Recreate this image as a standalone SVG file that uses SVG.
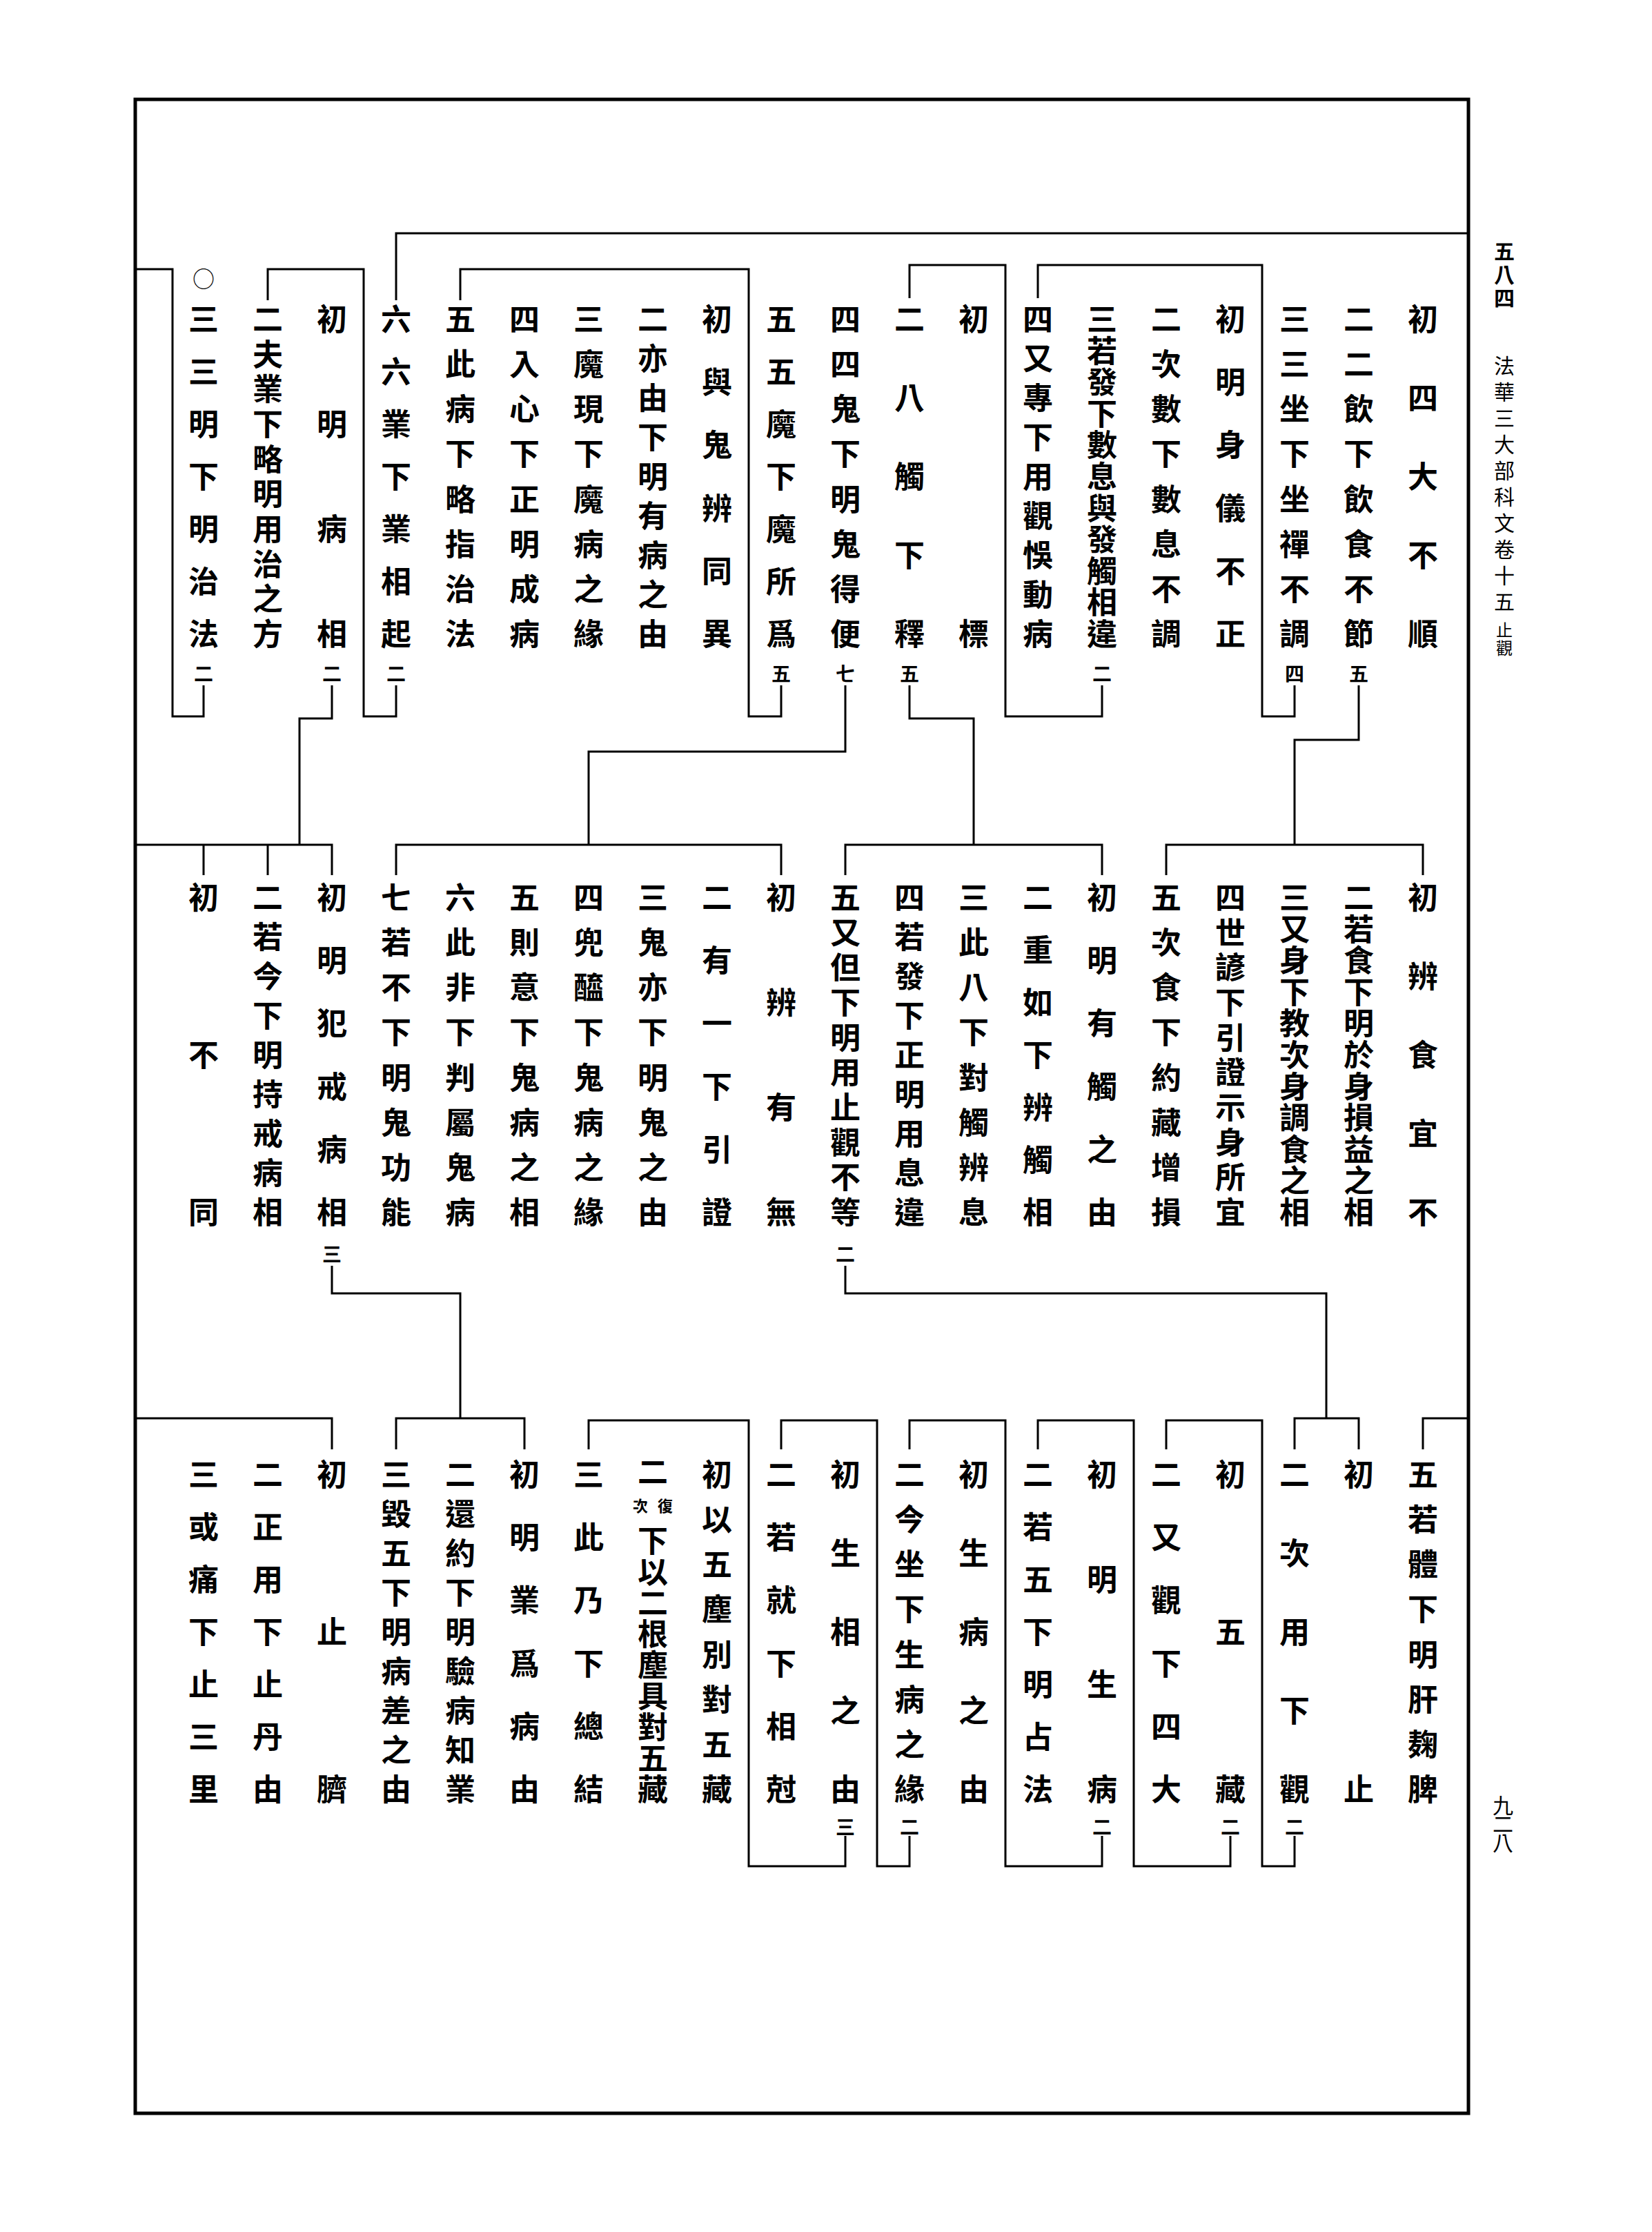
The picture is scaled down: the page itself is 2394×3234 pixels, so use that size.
<svg xmlns="http://www.w3.org/2000/svg" width="2394" height="3234" viewBox="0 0 2394 3234">
<style>
.t{font-family:"Noto Sans CJK TC","Noto Sans CJK JP",sans-serif;font-size:44px;font-weight:700;text-anchor:middle;dominant-baseline:central;fill:#000}
.n{font-size:28px}
.k{font-size:22px}
.h{font-family:"Noto Sans CJK TC","Noto Sans CJK JP",sans-serif;font-size:30px;text-anchor:middle;dominant-baseline:central;fill:#000}
.ln{fill:none;stroke:#000;stroke-width:3}
</style>
<rect width="2394" height="3234" fill="#fff"/>
<rect x="196" y="144" width="1932" height="2918" fill="none" stroke="#000" stroke-width="5"/>
<g id="header">
<text class="h" font-weight="700" x="2180 2180 2180" y="362 396 430">五八四</text>
<text class="h" x="2180 2180 2180 2180 2180 2180 2180 2180 2180 2180" y="528 566 604 642 680 718 756 794 832 870">法華三大部科文卷十五<tspan font-size="24" x="2180 2180" y="911 937">止觀</tspan></text>
<text class="h" font-size="24" x="2178 2178 2178" y="2614 2641 2668">九二八</text>
</g>
<g id="connectors" class="ln">
<path d="M574 435V338H2128"/>
<path d="M1504 432V384H1829V1038H1876V993"/>
<path d="M1318 432V384H1457V1038H1597V993"/>
<path d="M667 435V390H1085V1038H1132V993"/>
<path d="M388 435V390H527V1038H574V993"/>
<path d="M196 390H250V1038H295V993"/>
<path d="M1969 993V1072H1876V1224"/>
<path d="M1318 993V1041H1411V1224"/>
<path d="M1225 993V1089H853V1224"/>
<path d="M481 993V1041H434V1224"/>
<path d="M1690 1268V1224H2062V1268"/>
<path d="M1225 1268V1224H1597V1268"/>
<path d="M574 1268V1224H1132V1268"/>
<path d="M196 1224H481V1268M388 1224V1268M295 1224V1268"/>
<path d="M1225 1834V1874H1922V2055"/>
<path d="M481 1834V1874H667V2055"/>
<path d="M2128 2055H2062V2100"/>
<path d="M1876 2100V2055H1969V2100"/>
<path d="M1690 2100V2058H1829V2704H1876V2660"/>
<path d="M1504 2100V2058H1643V2704H1783V2660"/>
<path d="M1318 2100V2058H1457V2704H1597V2660"/>
<path d="M1132 2100V2058H1271V2704H1318V2660"/>
<path d="M853 2100V2058H1085V2704H1225V2660"/>
<path d="M574 2100V2055H760V2100"/>
<path d="M196 2055H481V2100"/>
</g>
<g id="r1c0"><text class="t" x="2062 2062 2062 2062 2062" y="460 574 688 802 916">初四大不順</text></g>
<g id="r1c1"><text class="t" x="1969 1969 1969 1969 1969 1969 1969 1969" y="460 525 590 655 721 786 851 916">二二飲下飲食不節<tspan class="n" x="1969" y="975">五</tspan></text></g>
<g id="r1c2"><text class="t" x="1876 1876 1876 1876 1876 1876 1876 1876" y="460 525 590 655 721 786 851 916">三三坐下坐禪不調<tspan class="n" x="1876" y="975">四</tspan></text></g>
<g id="r1c3"><text class="t" x="1783 1783 1783 1783 1783 1783" y="460 551 642 734 825 916">初明身儀不正</text></g>
<g id="r1c4"><text class="t" x="1690 1690 1690 1690 1690 1690 1690 1690" y="460 525 590 655 721 786 851 916">二次數下數息不調</text></g>
<g id="r1c5"><text class="t" x="1597 1597 1597 1597 1597 1597 1597 1597 1597 1597 1597" y="460 506 551 597 642 688 734 779 825 870 916">三若發下數息與發觸相違<tspan class="n" x="1597" y="975">二</tspan></text></g>
<g id="r1c6"><text class="t" x="1504 1504 1504 1504 1504 1504 1504 1504 1504" y="460 517 574 631 688 745 802 859 916">四又專下用觀悞動病</text></g>
<g id="r1c7"><text class="t" x="1411 1411" y="460 916">初標</text></g>
<g id="r1c8"><text class="t" x="1318 1318 1318 1318 1318" y="460 574 688 802 916">二八觸下釋<tspan class="n" x="1318" y="975">五</tspan></text></g>
<g id="r1c9"><text class="t" x="1225 1225 1225 1225 1225 1225 1225 1225" y="460 525 590 655 721 786 851 916">四四鬼下明鬼得便<tspan class="n" x="1225" y="975">七</tspan></text></g>
<g id="r1c10"><text class="t" x="1132 1132 1132 1132 1132 1132 1132" y="460 536 612 688 764 840 916">五五魔下魔所爲<tspan class="n" x="1132" y="975">五</tspan></text></g>
<g id="r1c11"><text class="t" x="1039 1039 1039 1039 1039 1039" y="460 551 642 734 825 916">初與鬼辨同異</text></g>
<g id="r1c12"><text class="t" x="946 946 946 946 946 946 946 946 946" y="460 517 574 631 688 745 802 859 916">二亦由下明有病之由</text></g>
<g id="r1c13"><text class="t" x="853 853 853 853 853 853 853 853" y="460 525 590 655 721 786 851 916">三魔現下魔病之緣</text></g>
<g id="r1c14"><text class="t" x="760 760 760 760 760 760 760 760" y="460 525 590 655 721 786 851 916">四入心下正明成病</text></g>
<g id="r1c15"><text class="t" x="667 667 667 667 667 667 667 667" y="460 525 590 655 721 786 851 916">五此病下略指治法</text></g>
<g id="r1c16"><text class="t" x="574 574 574 574 574 574 574" y="460 536 612 688 764 840 916">六六業下業相起<tspan class="n" x="574" y="975">二</tspan></text></g>
<g id="r1c17"><text class="t" x="481 481 481 481" y="460 612 764 916">初明病相<tspan class="n" x="481" y="975">二</tspan></text></g>
<g id="r1c18"><text class="t" x="388 388 388 388 388 388 388 388 388 388" y="460 511 561 612 663 713 764 815 865 916">二夫業下略明用治之方</text></g>
<g id="r1c19"><text class="t"><tspan font-size="32" font-weight="400" x="295" y="402">○</tspan><tspan x="295 295 295 295 295 295 295" y="460 536 612 688 764 840 916">三三明下明治法</tspan><tspan class="n" x="295" y="975">二</tspan></text></g>
<g id="r2c0"><text class="t" x="2062 2062 2062 2062 2062" y="1298 1412 1526 1640 1754">初辨食宜不</text></g>
<g id="r2c1"><text class="t" x="1969 1969 1969 1969 1969 1969 1969 1969 1969 1969 1969" y="1298 1344 1389 1435 1480 1526 1572 1617 1663 1708 1754">二若食下明於身損益之相</text></g>
<g id="r2c2"><text class="t" x="1876 1876 1876 1876 1876 1876 1876 1876 1876 1876 1876" y="1298 1344 1389 1435 1480 1526 1572 1617 1663 1708 1754">三又身下教次身調食之相</text></g>
<g id="r2c3"><text class="t" x="1783 1783 1783 1783 1783 1783 1783 1783 1783 1783" y="1298 1349 1399 1450 1501 1551 1602 1653 1703 1754">四世諺下引證示身所宜</text></g>
<g id="r2c4"><text class="t" x="1690 1690 1690 1690 1690 1690 1690 1690" y="1298 1363 1428 1493 1559 1624 1689 1754">五次食下約藏增損</text></g>
<g id="r2c5"><text class="t" x="1597 1597 1597 1597 1597 1597" y="1298 1389 1480 1572 1663 1754">初明有觸之由</text></g>
<g id="r2c6"><text class="t" x="1504 1504 1504 1504 1504 1504 1504" y="1298 1374 1450 1526 1602 1678 1754">二重如下辨觸相</text></g>
<g id="r2c7"><text class="t" x="1411 1411 1411 1411 1411 1411 1411 1411" y="1298 1363 1428 1493 1559 1624 1689 1754">三此八下對觸辨息</text></g>
<g id="r2c8"><text class="t" x="1318 1318 1318 1318 1318 1318 1318 1318 1318" y="1298 1355 1412 1469 1526 1583 1640 1697 1754">四若發下正明用息違</text></g>
<g id="r2c9"><text class="t" x="1225 1225 1225 1225 1225 1225 1225 1225 1225 1225" y="1298 1349 1399 1450 1501 1551 1602 1653 1703 1754">五又但下明用止觀不等<tspan class="n" x="1225" y="1816">二</tspan></text></g>
<g id="r2c10"><text class="t" x="1132 1132 1132 1132" y="1298 1450 1602 1754">初辨有無</text></g>
<g id="r2c11"><text class="t" x="1039 1039 1039 1039 1039 1039" y="1298 1389 1480 1572 1663 1754">二有一下引證</text></g>
<g id="r2c12"><text class="t" x="946 946 946 946 946 946 946 946" y="1298 1363 1428 1493 1559 1624 1689 1754">三鬼亦下明鬼之由</text></g>
<g id="r2c13"><text class="t" x="853 853 853 853 853 853 853 853" y="1298 1363 1428 1493 1559 1624 1689 1754">四兜醯下鬼病之緣</text></g>
<g id="r2c14"><text class="t" x="760 760 760 760 760 760 760 760" y="1298 1363 1428 1493 1559 1624 1689 1754">五則意下鬼病之相</text></g>
<g id="r2c15"><text class="t" x="667 667 667 667 667 667 667 667" y="1298 1363 1428 1493 1559 1624 1689 1754">六此非下判屬鬼病</text></g>
<g id="r2c16"><text class="t" x="574 574 574 574 574 574 574 574" y="1298 1363 1428 1493 1559 1624 1689 1754">七若不下明鬼功能</text></g>
<g id="r2c17"><text class="t" x="481 481 481 481 481 481" y="1298 1389 1480 1572 1663 1754">初明犯戒病相<tspan class="n" x="481" y="1816">三</tspan></text></g>
<g id="r2c18"><text class="t" x="388 388 388 388 388 388 388 388 388" y="1298 1355 1412 1469 1526 1583 1640 1697 1754">二若今下明持戒病相</text></g>
<g id="r2c19"><text class="t" x="295 295 295" y="1298 1526 1754">初不同</text></g>
<g id="r3c0"><text class="t" x="2062 2062 2062 2062 2062 2062 2062 2062" y="2134 2199 2264 2329 2395 2460 2525 2590">五若體下明肝麹脾</text></g>
<g id="r3c1"><text class="t" x="1969 1969" y="2134 2590">初止</text></g>
<g id="r3c2"><text class="t" x="1876 1876 1876 1876 1876" y="2134 2248 2362 2476 2590">二次用下觀<tspan class="n" x="1876" y="2646">二</tspan></text></g>
<g id="r3c3"><text class="t" x="1783 1783 1783" y="2134 2362 2590">初五藏<tspan class="n" x="1783" y="2646">二</tspan></text></g>
<g id="r3c4"><text class="t" x="1690 1690 1690 1690 1690 1690" y="2134 2225 2316 2408 2499 2590">二又觀下四大</text></g>
<g id="r3c5"><text class="t" x="1597 1597 1597 1597" y="2134 2286 2438 2590">初明生病<tspan class="n" x="1597" y="2646">二</tspan></text></g>
<g id="r3c6"><text class="t" x="1504 1504 1504 1504 1504 1504 1504" y="2134 2210 2286 2362 2438 2514 2590">二若五下明占法</text></g>
<g id="r3c7"><text class="t" x="1411 1411 1411 1411 1411" y="2134 2248 2362 2476 2590">初生病之由</text></g>
<g id="r3c8"><text class="t" x="1318 1318 1318 1318 1318 1318 1318 1318" y="2134 2199 2264 2329 2395 2460 2525 2590">二今坐下生病之緣<tspan class="n" x="1318" y="2646">二</tspan></text></g>
<g id="r3c9"><text class="t" x="1225 1225 1225 1225 1225" y="2134 2248 2362 2476 2590">初生相之由<tspan class="n" x="1225" y="2646">三</tspan></text></g>
<g id="r3c10"><text class="t" x="1132 1132 1132 1132 1132 1132" y="2134 2225 2316 2408 2499 2590">二若就下相尅</text></g>
<g id="r3c11"><text class="t" x="1039 1039 1039 1039 1039 1039 1039 1039" y="2134 2199 2264 2329 2395 2460 2525 2590">初以五塵別對五藏</text></g>
<g id="r3c12"><text class="t"><tspan x="946" y="2130">二</tspan><tspan class="k" x="964 928" y="2180 2180">復次</tspan><tspan x="946 946 946 946 946 946 946 946 946" y="2230 2275 2320 2365 2410 2455 2500 2545 2590">下以二根塵具對五藏</tspan></text></g>
<g id="r3c13"><text class="t" x="853 853 853 853 853 853" y="2134 2225 2316 2408 2499 2590">三此乃下總結</text></g>
<g id="r3c14"><text class="t" x="760 760 760 760 760 760" y="2134 2225 2316 2408 2499 2590">初明業爲病由</text></g>
<g id="r3c15"><text class="t" x="667 667 667 667 667 667 667 667 667" y="2134 2191 2248 2305 2362 2419 2476 2533 2590">二還約下明驗病知業</text></g>
<g id="r3c16"><text class="t" x="574 574 574 574 574 574 574 574 574" y="2134 2191 2248 2305 2362 2419 2476 2533 2590">三毀五下明病差之由</text></g>
<g id="r3c17"><text class="t" x="481 481 481" y="2134 2362 2590">初止臍</text></g>
<g id="r3c18"><text class="t" x="388 388 388 388 388 388 388" y="2134 2210 2286 2362 2438 2514 2590">二正用下止丹由</text></g>
<g id="r3c19"><text class="t" x="295 295 295 295 295 295 295" y="2134 2210 2286 2362 2438 2514 2590">三或痛下止三里</text></g>
</svg>
